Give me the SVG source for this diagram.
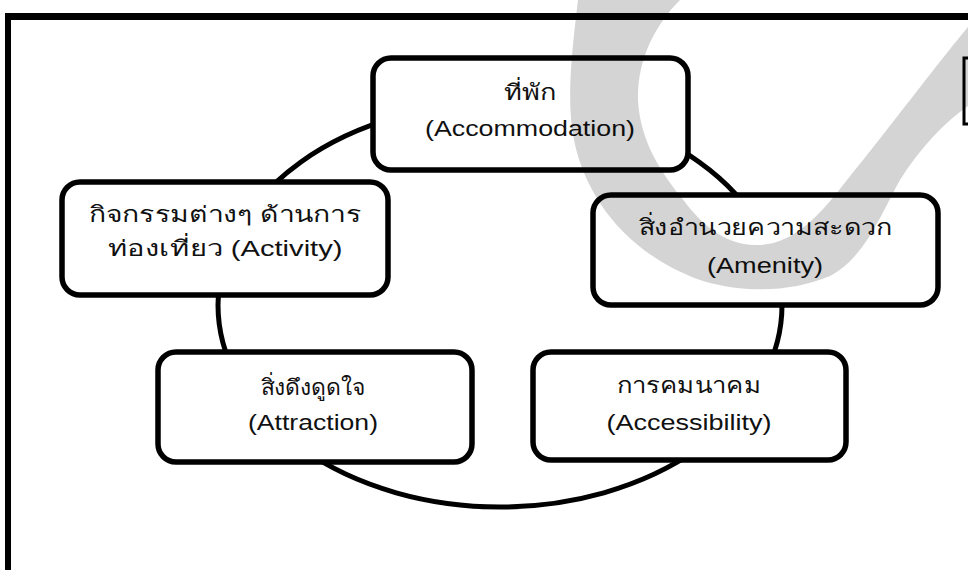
<svg xmlns="http://www.w3.org/2000/svg" width="968" height="570" viewBox="0 0 968 570">
  <style>
    .box { fill: #ffffff; stroke: #000000; stroke-width: 5.5; }
    .ring { fill: none; stroke: #000000; stroke-width: 5; }
    .frame { fill: #000000; }
    .t { font-family: "Liberation Sans", Arial, "Noto Sans", sans-serif; font-size: 22px; fill: #111111; text-anchor: middle; }
    .wm { fill: #000000; fill-opacity: 0.17; }
  </style>
  <rect width="968" height="570" fill="#ffffff"/>
  <!-- frame -->
  <rect class="frame" x="5" y="13" width="963" height="7"/>
  <rect class="frame" x="5" y="13" width="6" height="557"/>
  <path d="M968,58 H964 V124 H968" fill="none" stroke="#000" stroke-width="3"/>

  <g id="connectors">
    <ellipse class="ring" cx="500" cy="305" rx="282" ry="202"/>
  </g>

  <g id="accommodation">
    <rect class="box" x="373" y="58" width="315" height="112" rx="18"/>
    <text class="t" x="530" y="100" textLength="53" lengthAdjust="spacingAndGlyphs">ที่พัก</text>
    <text class="t" x="530" y="136" textLength="210" lengthAdjust="spacingAndGlyphs">(Accommodation)</text>
  </g>
  <g id="activity">
    <rect class="box" x="62" y="182" width="326" height="113" rx="18"/>
    <text class="t" x="225" y="222" textLength="272" lengthAdjust="spacingAndGlyphs">กิจกรรมต่างๆ ด้านการ</text>
    <text class="t" x="225" y="256" textLength="235" lengthAdjust="spacingAndGlyphs">ท่องเที่ยว (Activity)</text>
  </g>
  <g id="amenity">
    <rect class="box" x="593" y="195" width="345" height="110" rx="18"/>
    <text class="t" x="765" y="235" textLength="253" lengthAdjust="spacingAndGlyphs">สิ่งอำนวยความสะดวก</text>
    <text class="t" x="765" y="273" textLength="116" lengthAdjust="spacingAndGlyphs">(Amenity)</text>
  </g>
  <g id="attraction">
    <rect class="box" x="158" y="352" width="314" height="110" rx="18"/>
    <text class="t" x="313" y="395" textLength="105" lengthAdjust="spacingAndGlyphs">สิ่งดึงดูดใจ</text>
    <text class="t" x="313" y="430" textLength="130" lengthAdjust="spacingAndGlyphs">(Attraction)</text>
  </g>
  <g id="accessibility">
    <rect class="box" x="533" y="352" width="313" height="108" rx="18"/>
    <text class="t" x="689" y="393" textLength="145" lengthAdjust="spacingAndGlyphs">การคมนาคม</text>
    <text class="t" x="689" y="430" textLength="165" lengthAdjust="spacingAndGlyphs">(Accessibility)</text>
  </g>

  <!-- watermark swoosh -->
  <path class="wm" d="M578,0 C572,50 566,100 574,140 C586,200 630,255 700,280 C740,293 790,293 830,276 C865,258 882,212 900,180 C920,148 945,122 968,106 L968,27 C940,60 880,140 847,180 C820,215 795,243 760,245 C725,247 700,222 685,202 C660,172 640,140 638,100 C637,60 655,25 680,0 Z"/>
</svg>
